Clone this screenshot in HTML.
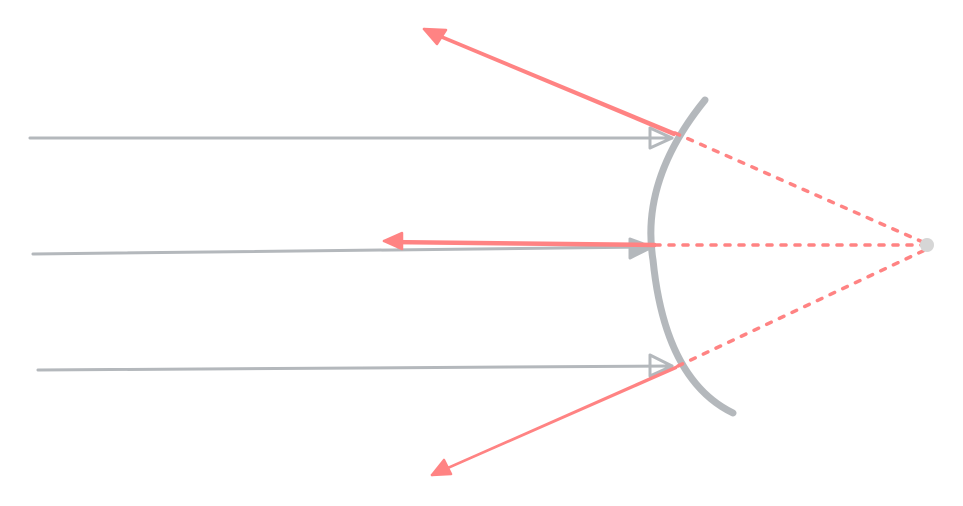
<!DOCTYPE html>
<html><head><meta charset="utf-8"><style>html,body{margin:0;padding:0;background:#fff}svg{display:block}</style></head>
<body>
<svg width="963" height="506" viewBox="0 0 963 506" xmlns="http://www.w3.org/2000/svg">
<g fill="none" stroke-linecap="round" stroke-linejoin="round">
<g stroke="#b4b8bc" stroke-width="3">
<path d="M30 138 L672 138"/>
<path d="M650 128 L672 138 L650 148 Z"/>
<path d="M33 254 L652 247"/>
<path d="M630 239 L652 247 L630 258 Z" fill="#b4b8bc"/>
<path d="M38 370 L672 366"/>
<path d="M650 355 L672 366 L650 376 Z"/>
</g>
<path d="M705 100 Q640 180 653 260 Q665 380 733 413" stroke="#b4b8bc" stroke-width="7"/>
<g stroke="#ff8383" stroke-width="2.5">
<path d="M675 133 L424 29"/>
<path d="M674 135 L426 31"/>
<path d="M424 29 L446 30 L437 44 Z" fill="#ff8383"/>
<path d="M655 244 L384 241"/>
<path d="M655 246 L390 243"/>
<path d="M384 241 L402 233 L402 249 Z" fill="#ff8383"/>
<path d="M678 366 L432 475"/>
<path d="M676 368 L434 474"/>
<path d="M432 475 L444 460 L451 474 Z" fill="#ff8383"/>
</g>
<g stroke="#ff8383" stroke-width="3.5" stroke-dasharray="5 9">
<path d="M675 133 L925 243"/>
<path d="M655 245 L925 245"/>
<path d="M678 366 L925 250"/>
</g>
</g>
<circle cx="927" cy="245" r="7" fill="#d6d6d6"/>
</svg>
</body></html>
